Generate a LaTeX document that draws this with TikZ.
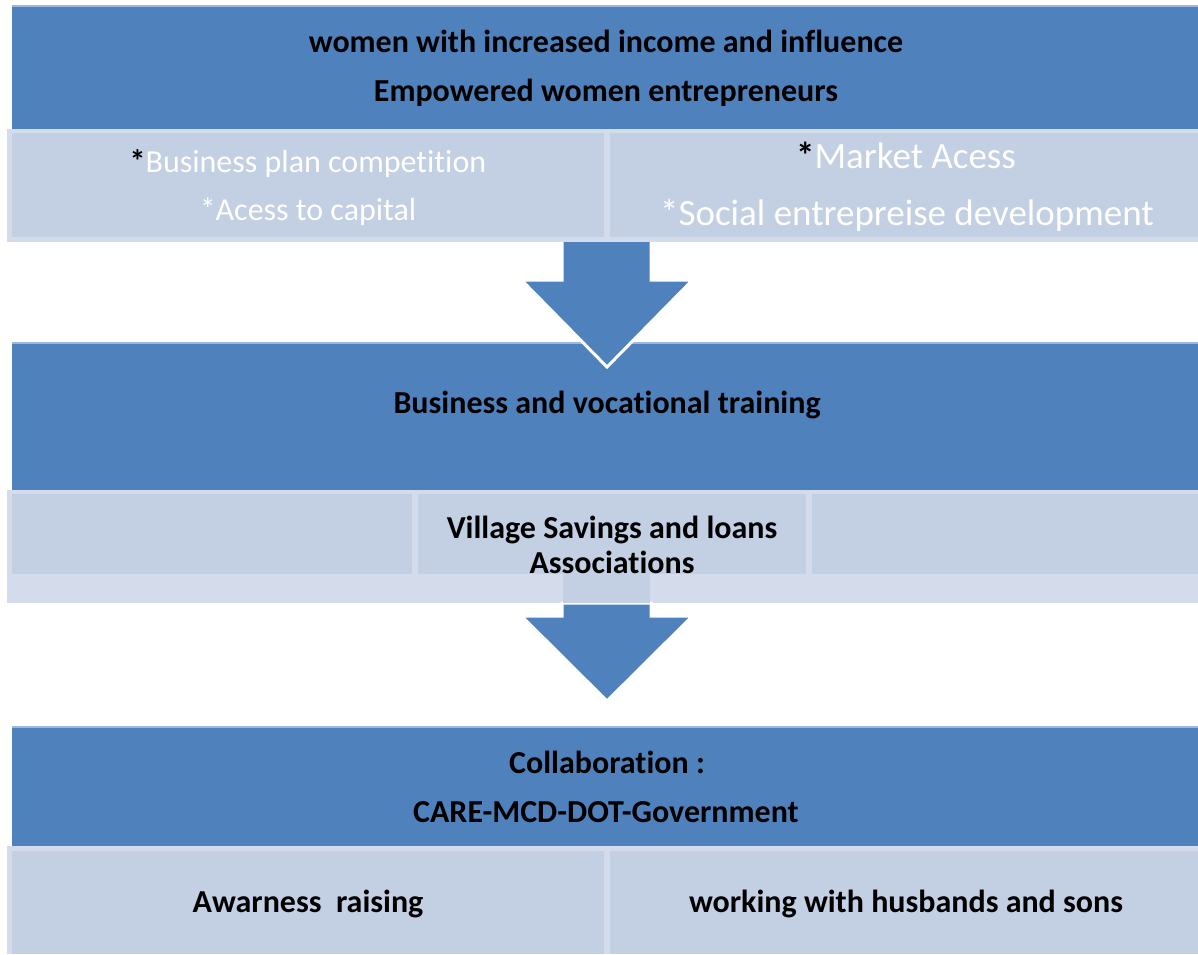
\documentclass[tikz,border=0pt]{standalone}
\usepackage{fontspec}
\setmainfont{Carlito}[Ligatures={NoCommon,NoContextual},RawFeature={-liga;-clig;-calt}]
\definecolor{band}{HTML}{4F81BD}
\definecolor{bandedge}{HTML}{9DB8DC}
\definecolor{cell}{HTML}{C3CFE2}
\definecolor{cellframe}{HTML}{D4DBEA}
\newcommand{\nolig}{\kern0pt\relax}
\begin{document}
\begin{tikzpicture}[x=1pt,y=-1pt,
  bandbox/.style={fill=band,draw=none},
  framebox/.style={fill=cellframe,draw=none},
  cellbox/.style={fill=cell,draw=none},
  flowarrow/.style={fill=band,draw=white,line width=3pt,line join=miter},
  headtxt/.style={font=\fontsize{32}{38}\selectfont\bfseries,text=black,inner sep=0pt,anchor=base},
  lefttxt/.style={font=\fontsize{32}{38}\selectfont,text=white,inner sep=0pt,anchor=base},
  righttxt/.style={font=\fontsize{37}{42}\selectfont,text=white,inner sep=0pt,anchor=base}]
\useasboundingbox (0,0) rectangle (1198,954);
\fill[white] (0,0) rectangle (1198,954);

% ---------- level 1 ----------
\fill[bandbox] (12,6) rectangle (1198,129);
\fill[bandedge] (12,5) rectangle (1198,6.5);
% ---------- level 2 band and first arrow ----------
\fill[bandbox] (12,343) rectangle (1198,490);
\fill[bandedge] (12,342) rectangle (1198,343.5);
\filldraw[flowarrow] (562,236) -- (651,236) -- (651,280) -- (692.5,280) -- (607,367)
  -- (521.5,280) -- (562,280) -- cycle;
% row of cells under level 1
\fill[framebox] (7,129) rectangle (1198,242);
\fill[cellbox] (12,133) rectangle (604,237);
\fill[cellbox] (610,133) rectangle (1198,237);

% ---------- row of cells under level 2 ----------
\fill[framebox] (7,490) rectangle (1198,603);
\fill[cellbox] (12,494) rectangle (412,574);
\fill[cellbox] (418,494) rectangle (806,574);
\fill[cellbox] (812,494) rectangle (1198,574);

% second arrow
\filldraw[flowarrow] (562,603) -- (651,603) -- (651,616) -- (692.5,616) -- (607,701)
  -- (521.5,616) -- (562,616) -- cycle;
\fill[cell] (563,574) rectangle (650,603);

% ---------- level 3 ----------
\fill[bandbox] (12,727) rectangle (1198,846);
\fill[bandedge] (12,726) rectangle (1198,727.5);
\fill[framebox] (7,846) rectangle (1198,954);
\fill[cellbox] (12,851) rectangle (604,954);
\fill[cellbox] (610,851) rectangle (1198,954);

% ---------- texts ----------
\node[headtxt] (goal1) at (606,52) {women with increased income and inf\nolig luence};
\node[headtxt] (goal2) at (606,101) {Empowered women entrepreneurs};
\node[lefttxt] (bpc) at (308,172) {\textcolor{black}{\bfseries *}Business plan competit\nolig ion};
\node[lefttxt] (cap) at (308,220) {*Acess to capital};
\node[righttxt] (mkt) at (906,168) {\textcolor{black}{\bfseries *}Market Acess};
\node[righttxt] (soc) at (907,225) {*Social entrepreise development};

\node[headtxt] (train) at (607,413) {Business and vocat\nolig ional training};
\node[headtxt] (vsla1) at (612,538) {Village Savings and loans};
\node[headtxt] (vsla2) at (612,573) {Associat\nolig ions};

\node[headtxt] (collab1) at (607,773) {Collaborat\nolig ion :};
\node[headtxt] (collab2) at (606,822) {CARE-MCD-DOT-Government};
\node[headtxt] (aware) at (308,912) {Awarness\ \ raising};
\node[headtxt] (husb) at (906,912) {working with husbands and sons};
\end{tikzpicture}
\end{document}
